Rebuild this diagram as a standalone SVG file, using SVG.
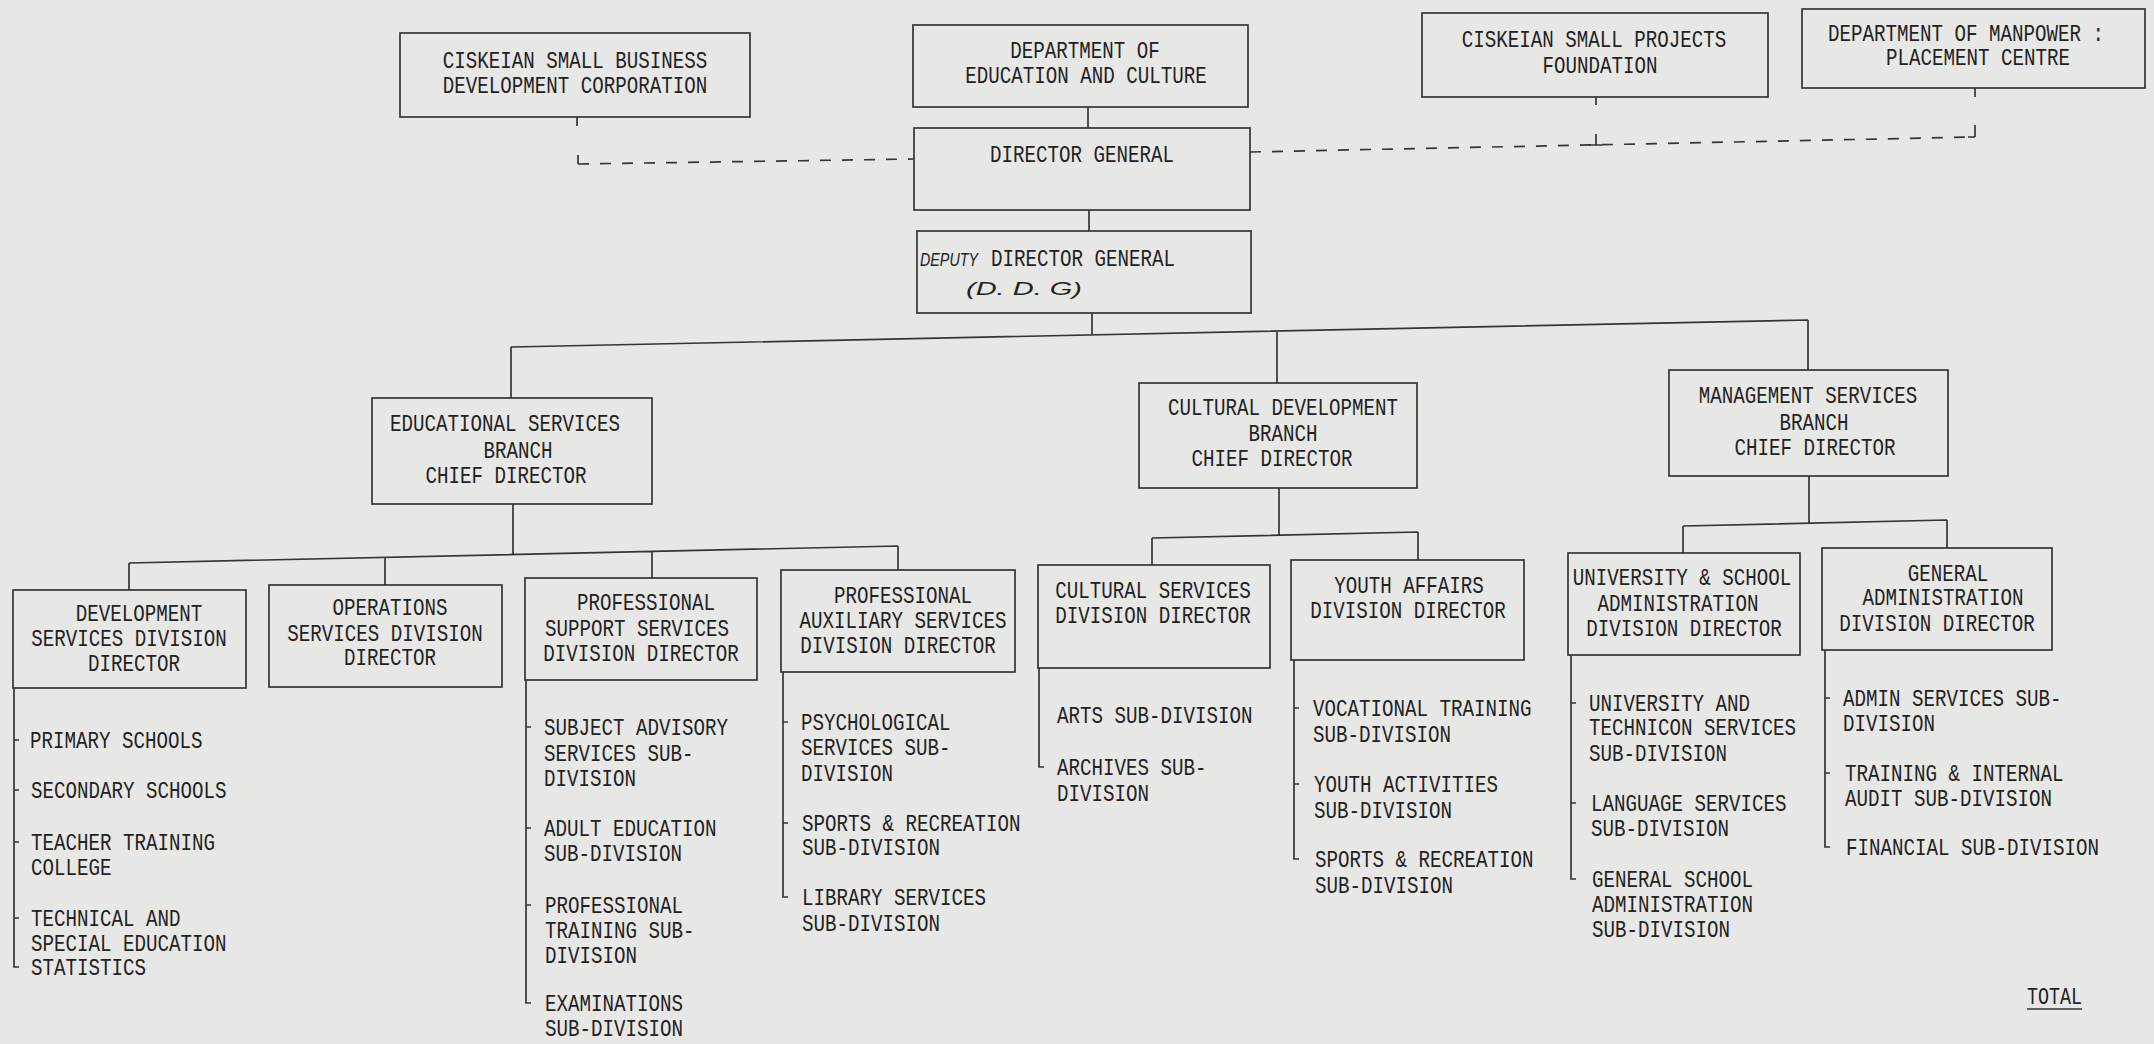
<svg xmlns="http://www.w3.org/2000/svg" width="2154" height="1044" viewBox="0 0 2154 1044">
<style>
.bg{fill:#e7e7e5}
.box{fill:none;stroke:#353535;stroke-width:1.7}
.ln{fill:none;stroke:#353535;stroke-width:1.7}
.ds{fill:none;stroke:#353535;stroke-width:1.7;stroke-dasharray:11 11}
text{font-family:"Liberation Mono","DejaVu Sans Mono",monospace;font-size:23px;fill:#222222}
.c{text-anchor:middle}
.hw{font-family:"Liberation Sans","DejaVu Sans",sans-serif;font-style:italic;font-size:19px}
</style>
<rect class="bg" x="0" y="0" width="2154" height="1044"/>

<g id="connectors">
  <path class="ln" d="M1088 107V128M1089 210V231M1092 313V335"/>
  <path class="ln" d="M577 117V126M578 155V164"/>
  <path class="ds" d="M578 164L914 159"/>
  <path class="ds" d="M1250 152L1975 137"/>
  <path class="ln" d="M1596 97V105M1596 134V145M1590 145H1602M1975 88V97M1975 125V137M1968 137H1975"/>
  <path class="ln" d="M511 347L1808 320M511 347V398M1277 332V383M1808 320V370"/>
  <path class="ln" d="M513 504V555M129 563L898 546M129 563V590M385 557V585M652 551V578M898 546V570"/>
  <path class="ln" d="M1279 488V535M1152 538L1418 532M1152 538V565M1418 532V560"/>
  <path class="ln" d="M1809 476V523M1683 526L1947 520M1683 526V553M1947 520V548"/>
  <path class="ln" d="M14 688V967H19M14 740H19M14 790H19M14 842H19M14 918H19"/>
  <path class="ln" d="M526 680V1003H531M526 727H531M526 828H531M526 905H531"/>
  <path class="ln" d="M783 672V897H788M783 722H788M783 823H788"/>
  <path class="ln" d="M1039 668V767H1044"/>
  <path class="ln" d="M1294 660V859H1299M1294 708H1299M1294 784H1299"/>
  <path class="ln" d="M1571 655V879H1576M1571 703H1576M1571 803H1576"/>
  <path class="ln" d="M1825 650V847H1830M1825 698H1830M1825 773H1830"/>
</g>

<g id="csbdc">
  <rect class="box" x="400" y="33" width="350" height="84"/>
  <text class="c" x="575" y="68" textLength="264.5" lengthAdjust="spacingAndGlyphs">CISKEIAN SMALL BUSINESS</text>
  <text class="c" x="575" y="93" textLength="264.5" lengthAdjust="spacingAndGlyphs">DEVELOPMENT CORPORATION</text>
</g>
<g id="dept-education">
  <rect class="box" x="913" y="25" width="335" height="82"/>
  <text class="c" x="1085" y="58" textLength="149.5" lengthAdjust="spacingAndGlyphs">DEPARTMENT OF</text>
  <text class="c" x="1086" y="83" textLength="241.5" lengthAdjust="spacingAndGlyphs">EDUCATION AND CULTURE</text>
</g>
<g id="director-general">
  <rect class="box" x="914" y="128" width="336" height="82"/>
  <text class="c" x="1082" y="162" textLength="184" lengthAdjust="spacingAndGlyphs">DIRECTOR GENERAL</text>
</g>
<g id="deputy-director-general">
  <rect class="box" x="917" y="231" width="334" height="82"/>
  <text class="hw" x="920" y="266" textLength="58" lengthAdjust="spacingAndGlyphs">DEPUTY</text>
  <text x="991" y="266" textLength="184" lengthAdjust="spacingAndGlyphs">DIRECTOR GENERAL</text>
  <text class="hw" x="966" y="295" font-size="22" textLength="116" lengthAdjust="spacingAndGlyphs">(D. D. G)</text>
</g>
<g id="cspf">
  <rect class="box" x="1422" y="13" width="346" height="84"/>
  <text class="c" x="1594" y="47" textLength="264.5" lengthAdjust="spacingAndGlyphs">CISKEIAN SMALL PROJECTS</text>
  <text class="c" x="1600" y="73" textLength="115" lengthAdjust="spacingAndGlyphs">FOUNDATION</text>
</g>
<g id="dept-manpower">
  <rect class="box" x="1802" y="9" width="343" height="79"/>
  <text class="c" x="1966" y="41" textLength="276" lengthAdjust="spacingAndGlyphs">DEPARTMENT OF MANPOWER :</text>
  <text class="c" x="1978" y="65" textLength="184" lengthAdjust="spacingAndGlyphs">PLACEMENT CENTRE</text>
</g>

<g id="educational-services">
  <rect class="box" x="372" y="398" width="280" height="106"/>
  <text class="c" x="505" y="431" textLength="230" lengthAdjust="spacingAndGlyphs">EDUCATIONAL SERVICES</text>
  <text class="c" x="518" y="458" textLength="69" lengthAdjust="spacingAndGlyphs">BRANCH</text>
  <text class="c" x="506" y="483" textLength="161" lengthAdjust="spacingAndGlyphs">CHIEF DIRECTOR</text>
</g>
<g id="cultural-development">
  <rect class="box" x="1139" y="383" width="278" height="105"/>
  <text class="c" x="1283" y="415" textLength="230" lengthAdjust="spacingAndGlyphs">CULTURAL DEVELOPMENT</text>
  <text class="c" x="1283" y="441" textLength="69" lengthAdjust="spacingAndGlyphs">BRANCH</text>
  <text class="c" x="1272" y="466" textLength="161" lengthAdjust="spacingAndGlyphs">CHIEF DIRECTOR</text>
</g>
<g id="management-services">
  <rect class="box" x="1669" y="370" width="279" height="106"/>
  <text class="c" x="1808" y="403" textLength="218.5" lengthAdjust="spacingAndGlyphs">MANAGEMENT SERVICES</text>
  <text class="c" x="1814" y="430" textLength="69" lengthAdjust="spacingAndGlyphs">BRANCH</text>
  <text class="c" x="1815" y="455" textLength="161" lengthAdjust="spacingAndGlyphs">CHIEF DIRECTOR</text>
</g>

<g id="development-services">
  <rect class="box" x="13" y="590" width="233" height="98"/>
  <text class="c" x="139" y="621" textLength="126.5" lengthAdjust="spacingAndGlyphs">DEVELOPMENT</text>
  <text class="c" x="129" y="646" textLength="195.5" lengthAdjust="spacingAndGlyphs">SERVICES DIVISION</text>
  <text class="c" x="134" y="671" textLength="92" lengthAdjust="spacingAndGlyphs">DIRECTOR</text>
  <text x="30" y="748" textLength="172.5" lengthAdjust="spacingAndGlyphs">PRIMARY SCHOOLS</text>
  <text x="31" y="798" textLength="195.5" lengthAdjust="spacingAndGlyphs">SECONDARY SCHOOLS</text>
  <text x="31" y="850" textLength="184" lengthAdjust="spacingAndGlyphs">TEACHER TRAINING</text>
  <text x="31" y="875" textLength="80.5" lengthAdjust="spacingAndGlyphs">COLLEGE</text>
  <text x="31" y="926" textLength="149.5" lengthAdjust="spacingAndGlyphs">TECHNICAL AND</text>
  <text x="31" y="951" textLength="195.5" lengthAdjust="spacingAndGlyphs">SPECIAL EDUCATION</text>
  <text x="31" y="975" textLength="115" lengthAdjust="spacingAndGlyphs">STATISTICS</text>
</g>
<g id="operations-services">
  <rect class="box" x="269" y="585" width="233" height="102"/>
  <text class="c" x="390" y="615" textLength="115" lengthAdjust="spacingAndGlyphs">OPERATIONS</text>
  <text class="c" x="385" y="641" textLength="195.5" lengthAdjust="spacingAndGlyphs">SERVICES DIVISION</text>
  <text class="c" x="390" y="665" textLength="92" lengthAdjust="spacingAndGlyphs">DIRECTOR</text>
</g>
<g id="professional-support">
  <rect class="box" x="525" y="578" width="232" height="102"/>
  <text class="c" x="646" y="610" textLength="138" lengthAdjust="spacingAndGlyphs">PROFESSIONAL</text>
  <text class="c" x="637" y="636" textLength="184" lengthAdjust="spacingAndGlyphs">SUPPORT SERVICES</text>
  <text class="c" x="641" y="661" textLength="195.5" lengthAdjust="spacingAndGlyphs">DIVISION DIRECTOR</text>
  <text x="544" y="735" textLength="184" lengthAdjust="spacingAndGlyphs">SUBJECT ADVISORY</text>
  <text x="544" y="761" textLength="149.5" lengthAdjust="spacingAndGlyphs">SERVICES SUB-</text>
  <text x="544" y="786" textLength="92" lengthAdjust="spacingAndGlyphs">DIVISION</text>
  <text x="544" y="836" textLength="172.5" lengthAdjust="spacingAndGlyphs">ADULT EDUCATION</text>
  <text x="544" y="861" textLength="138" lengthAdjust="spacingAndGlyphs">SUB-DIVISION</text>
  <text x="545" y="913" textLength="138" lengthAdjust="spacingAndGlyphs">PROFESSIONAL</text>
  <text x="545" y="938" textLength="149.5" lengthAdjust="spacingAndGlyphs">TRAINING SUB-</text>
  <text x="545" y="963" textLength="92" lengthAdjust="spacingAndGlyphs">DIVISION</text>
  <text x="545" y="1011" textLength="138" lengthAdjust="spacingAndGlyphs">EXAMINATIONS</text>
  <text x="545" y="1036" textLength="138" lengthAdjust="spacingAndGlyphs">SUB-DIVISION</text>
</g>
<g id="professional-auxiliary">
  <rect class="box" x="781" y="570" width="234" height="102"/>
  <text class="c" x="903" y="603" textLength="138" lengthAdjust="spacingAndGlyphs">PROFESSIONAL</text>
  <text class="c" x="903" y="628" textLength="207" lengthAdjust="spacingAndGlyphs">AUXILIARY SERVICES</text>
  <text class="c" x="898" y="653" textLength="195.5" lengthAdjust="spacingAndGlyphs">DIVISION DIRECTOR</text>
  <text x="801" y="730" textLength="149.5" lengthAdjust="spacingAndGlyphs">PSYCHOLOGICAL</text>
  <text x="801" y="755" textLength="149.5" lengthAdjust="spacingAndGlyphs">SERVICES SUB-</text>
  <text x="801" y="781" textLength="92" lengthAdjust="spacingAndGlyphs">DIVISION</text>
  <text x="802" y="831" textLength="218.5" lengthAdjust="spacingAndGlyphs">SPORTS &amp; RECREATION</text>
  <text x="802" y="855" textLength="138" lengthAdjust="spacingAndGlyphs">SUB-DIVISION</text>
  <text x="802" y="905" textLength="184" lengthAdjust="spacingAndGlyphs">LIBRARY SERVICES</text>
  <text x="802" y="931" textLength="138" lengthAdjust="spacingAndGlyphs">SUB-DIVISION</text>
</g>
<g id="cultural-services">
  <rect class="box" x="1038" y="565" width="232" height="103"/>
  <text class="c" x="1153" y="598" textLength="195.5" lengthAdjust="spacingAndGlyphs">CULTURAL SERVICES</text>
  <text class="c" x="1153" y="623" textLength="195.5" lengthAdjust="spacingAndGlyphs">DIVISION DIRECTOR</text>
  <text x="1057" y="723" textLength="195.5" lengthAdjust="spacingAndGlyphs">ARTS SUB-DIVISION</text>
  <text x="1057" y="775" textLength="149.5" lengthAdjust="spacingAndGlyphs">ARCHIVES SUB-</text>
  <text x="1057" y="801" textLength="92" lengthAdjust="spacingAndGlyphs">DIVISION</text>
</g>
<g id="youth-affairs">
  <rect class="box" x="1291" y="560" width="233" height="100"/>
  <text class="c" x="1409" y="593" textLength="149.5" lengthAdjust="spacingAndGlyphs">YOUTH AFFAIRS</text>
  <text class="c" x="1408" y="618" textLength="195.5" lengthAdjust="spacingAndGlyphs">DIVISION DIRECTOR</text>
  <text x="1313" y="716" textLength="218.5" lengthAdjust="spacingAndGlyphs">VOCATIONAL TRAINING</text>
  <text x="1313" y="742" textLength="138" lengthAdjust="spacingAndGlyphs">SUB-DIVISION</text>
  <text x="1314" y="792" textLength="184" lengthAdjust="spacingAndGlyphs">YOUTH ACTIVITIES</text>
  <text x="1314" y="818" textLength="138" lengthAdjust="spacingAndGlyphs">SUB-DIVISION</text>
  <text x="1315" y="867" textLength="218.5" lengthAdjust="spacingAndGlyphs">SPORTS &amp; RECREATION</text>
  <text x="1315" y="893" textLength="138" lengthAdjust="spacingAndGlyphs">SUB-DIVISION</text>
</g>
<g id="university-school">
  <rect class="box" x="1568" y="553" width="232" height="102"/>
  <text class="c" x="1682" y="585" textLength="218.5" lengthAdjust="spacingAndGlyphs">UNIVERSITY &amp; SCHOOL</text>
  <text class="c" x="1678" y="611" textLength="161" lengthAdjust="spacingAndGlyphs">ADMINISTRATION</text>
  <text class="c" x="1684" y="636" textLength="195.5" lengthAdjust="spacingAndGlyphs">DIVISION DIRECTOR</text>
  <text x="1589" y="711" textLength="161" lengthAdjust="spacingAndGlyphs">UNIVERSITY AND</text>
  <text x="1589" y="735" textLength="207" lengthAdjust="spacingAndGlyphs">TECHNICON SERVICES</text>
  <text x="1589" y="761" textLength="138" lengthAdjust="spacingAndGlyphs">SUB-DIVISION</text>
  <text x="1591" y="811" textLength="195.5" lengthAdjust="spacingAndGlyphs">LANGUAGE SERVICES</text>
  <text x="1591" y="836" textLength="138" lengthAdjust="spacingAndGlyphs">SUB-DIVISION</text>
  <text x="1592" y="887" textLength="161" lengthAdjust="spacingAndGlyphs">GENERAL SCHOOL</text>
  <text x="1592" y="912" textLength="161" lengthAdjust="spacingAndGlyphs">ADMINISTRATION</text>
  <text x="1592" y="937" textLength="138" lengthAdjust="spacingAndGlyphs">SUB-DIVISION</text>
</g>
<g id="general-administration">
  <rect class="box" x="1822" y="548" width="230" height="102"/>
  <text class="c" x="1948" y="581" textLength="80.5" lengthAdjust="spacingAndGlyphs">GENERAL</text>
  <text class="c" x="1943" y="605" textLength="161" lengthAdjust="spacingAndGlyphs">ADMINISTRATION</text>
  <text class="c" x="1937" y="631" textLength="195.5" lengthAdjust="spacingAndGlyphs">DIVISION DIRECTOR</text>
  <text x="1843" y="706" textLength="218.5" lengthAdjust="spacingAndGlyphs">ADMIN SERVICES SUB-</text>
  <text x="1843" y="731" textLength="92" lengthAdjust="spacingAndGlyphs">DIVISION</text>
  <text x="1845" y="781" textLength="218.5" lengthAdjust="spacingAndGlyphs">TRAINING &amp; INTERNAL</text>
  <text x="1845" y="806" textLength="207" lengthAdjust="spacingAndGlyphs">AUDIT SUB-DIVISION</text>
  <text x="1846" y="855" textLength="253" lengthAdjust="spacingAndGlyphs">FINANCIAL SUB-DIVISION</text>
</g>
<g id="total">
  <text x="2027" y="1004" textLength="55" lengthAdjust="spacingAndGlyphs">TOTAL</text>
  <path class="ln" d="M2027 1009H2082"/>
</g>
</svg>
